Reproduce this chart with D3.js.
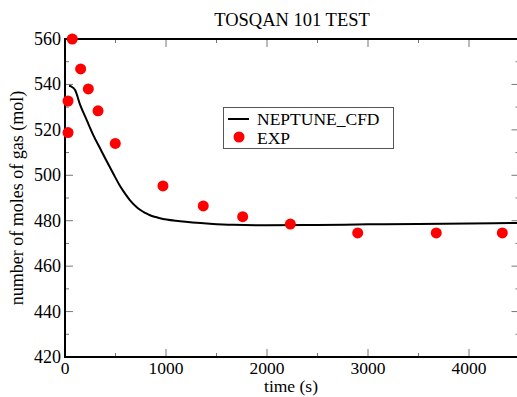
<!DOCTYPE html>
<html>
<head>
<meta charset="utf-8">
<script src="https://cdn.jsdelivr.net/npm/d3@7"></script>
<style>
  body { margin: 0; background: #fff; }
  svg text { font-family: 'Liberation Serif', 'DejaVu Serif', serif; }
</style>
</head>
<body>
<div id="chart"></div>
<script>
// NEPTUNE_CFD curve (time s, moles)
const cfdTime = [40, 60, 100, 150, 215, 280, 347, 413, 495, 545, 600, 644, 700, 743, 800, 842, 900, 941, 1139, 1436, 1665, 2000, 2500, 3000, 3500, 4000, 4500];
const cfdMoles = [539.4, 539.1, 537.5, 531, 524.3, 517.7, 511.9, 506.2, 499.3, 495.3, 491.6, 489, 486.4, 484.8, 483.3, 482.4, 481.6, 481.1, 479.8, 478.7, 478.2, 478, 478.1, 478.4, 478.6, 478.8, 479];

// EXP points
const expTime = [30, 30, 72, 155, 231, 327, 498, 970, 1369, 1759, 2231, 2898, 3676, 4330];
const expMoles = [518.8, 532.7, 560, 546.8, 538, 528.4, 514, 495.3, 486.5, 481.8, 478.5, 474.6, 474.6, 474.6];

const xTicks = [0, 1000, 2000, 3000, 4000];
const yTicks = [420, 440, 460, 480, 500, 520, 540, 560];

const W = 517, H = 397;
const margin = {top: 39, right: -2.5, bottom: 40, left: 65};
const width = W - margin.left - margin.right;
const height = H - margin.top - margin.bottom;

const svg = d3.select('#chart').append('svg')
  .attr('width', W).attr('height', H)
  .style('display', 'block');

const x = d3.scaleLinear().domain([0, 4500]).range([margin.left, margin.left + width]);
const y = d3.scaleLinear().domain([420, 560]).range([margin.top + height, margin.top]);

const g = svg.append('g');

// ticks on all four sides, pointing inward
const xMinor = d3.range(0, 4501, 500);
const yMinor = d3.range(420, 561, 10);
const tickColor = '#777';
xMinor.forEach(function (t) {
  const len = t % 1000 === 0 ? 8 : 4;
  g.append('line').attr('x1', x(t)).attr('x2', x(t))
    .attr('y1', y(420)).attr('y2', y(420) - len).attr('stroke', tickColor).attr('stroke-width', 1);
  g.append('line').attr('x1', x(t)).attr('x2', x(t))
    .attr('y1', y(560)).attr('y2', y(560) + len).attr('stroke', tickColor).attr('stroke-width', 1);
});
yMinor.forEach(function (v) {
  const len = v % 20 === 0 ? 8 : 4;
  g.append('line').attr('x1', x(0)).attr('x2', x(0) + len)
    .attr('y1', y(v)).attr('y2', y(v)).attr('stroke', tickColor).attr('stroke-width', 1);
  g.append('line').attr('x1', x(4500)).attr('x2', x(4500) - len)
    .attr('y1', y(v)).attr('y2', y(v)).attr('stroke', tickColor).attr('stroke-width', 1);
});

// frame
g.append('rect')
  .attr('x', x(0)).attr('y', y(560))
  .attr('width', x(4500) - x(0)).attr('height', y(420) - y(560))
  .attr('fill', 'none').attr('stroke', '#000').attr('stroke-width', 2);

// tick labels
g.selectAll('.xl').data(xTicks).enter().append('text')
  .attr('x', function (d) { return x(d); })
  .attr('y', y(420) + 17)
  .attr('text-anchor', 'middle')
  .attr('font-size', 17.5)
  .text(function (d) { return d; });

g.selectAll('.yl').data(yTicks).enter().append('text')
  .attr('x', x(0) - 4)
  .attr('y', function (d) { return y(d) + 6; })
  .attr('text-anchor', 'end')
  .attr('font-size', 18)
  .text(function (d) { return d; });

// titles
svg.append('text').attr('x', 292).attr('y', 26)
  .attr('text-anchor', 'middle').attr('font-size', 18.5)
  .text('TOSQAN 101 TEST');
svg.append('text').attr('x', 291).attr('y', 392)
  .attr('text-anchor', 'middle').attr('font-size', 17.5)
  .text('time (s)');
svg.append('text')
  .attr('transform', 'translate(23,' + 198 + ') rotate(-90)')
  .attr('text-anchor', 'middle').attr('font-size', 18)
  .text('number of moles of gas (mol)');

// curve
const cfd = cfdTime.map(function (t, i) { return [t, cfdMoles[i]]; });
g.append('path')
  .datum(cfd)
  .attr('fill', 'none').attr('stroke', '#000').attr('stroke-width', 2)
  .attr('d', d3.line()
    .x(function (d) { return x(d[0]); })
    .y(function (d) { return y(d[1]); })
    .curve(d3.curveMonotoneX));

// exp points
const exp = expTime.map(function (t, i) { return [t, expMoles[i]]; });
g.selectAll('.pt').data(exp).enter().append('circle')
  .attr('cx', function (d) { return x(d[0]); })
  .attr('cy', function (d) { return y(d[1]); })
  .attr('r', 5.5)
  .attr('fill', '#ff0000');

// legend
const lg = svg.append('g');
lg.append('rect').attr('x', 223.5).attr('y', 107.5).attr('width', 170).attr('height', 41)
  .attr('fill', '#fff').attr('stroke', '#555').attr('stroke-width', 1);
lg.append('line').attr('x1', 228).attr('x2', 249).attr('y1', 119).attr('y2', 119)
  .attr('stroke', '#000').attr('stroke-width', 2);
lg.append('text').attr('x', 257).attr('y', 124.5).attr('font-size', 17.5).text('NEPTUNE_CFD');
lg.append('circle').attr('cx', 239).attr('cy', 137).attr('r', 5.5).attr('fill', '#ff0000');
lg.append('text').attr('x', 257).attr('y', 143.5).attr('font-size', 17.5).text('EXP');
</script>
</body>
</html>
